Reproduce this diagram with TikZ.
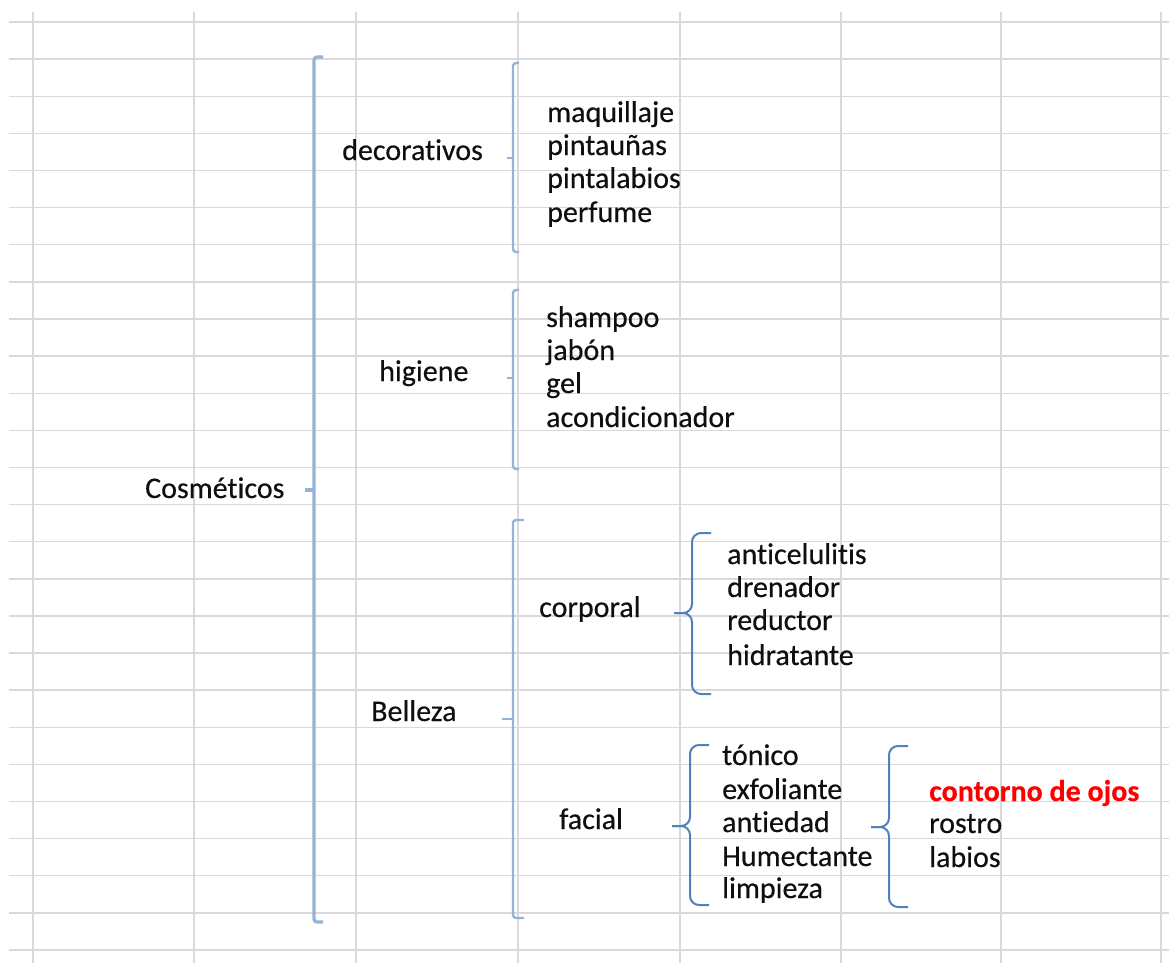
\documentclass[tikz,border=0pt]{standalone}
\usepackage{fontspec}
\setmainfont{Carlito}[RawFeature=-liga, FakeBold=0.35]
\definecolor{gridgray}{RGB}{217,217,217}
\definecolor{lineblue}{RGB}{149,179,215}
\definecolor{bracedark}{RGB}{79,129,189}
\definecolor{txt}{RGB}{15,15,15}
\definecolor{hotred}{RGB}{255,0,0}
\tikzset{
  gridline/.style={draw=gridgray, line width=1.4pt},
  item/.style={anchor=base west, inner sep=0pt, text=txt, font=\fontsize{30}{34}\selectfont},
  bigbar/.style={draw=lineblue, line width=3.2pt, rounded corners=3pt},
  bar/.style={draw=lineblue, line width=2.4pt, rounded corners=3pt},
  curly/.style={draw=bracedark, line width=2pt, rounded corners=9pt},
}
% square bracket: style, x, top, middle, bottom, tick
\newcommand{\corchete}[6][bar]{%
  \draw[#1] (#2+#6,#3) -- (#2,#3) -- (#2,#5) -- (#2+#6,#5);
  \draw[#1] (#2-#6,#4) -- (#2,#4);
}
% curly brace: x, top, middle, bottom
\newcommand{\llave}[4]{%
  \draw[curly] (#1+19,#2) -- (#1,#2) -- (#1,#3) -- (#1-18,#3);
  \draw[curly] (#1+19,#4) -- (#1,#4) -- (#1,#3) -- (#1-18,#3);
}
\begin{document}
\begin{tikzpicture}[x={(1pt,0)}, y={(0,-1pt)}]
    \useasboundingbox (0,0) rectangle (1169,963);
    \fill[white] (0,0) rectangle (1169,963);

    %Grid
    \foreach \k in {0,...,25}
      \draw[gridline] (9,22+37.12*\k) -- (1169,22+37.12*\k);
    \foreach \x in {33,194,356,518,680,841,1001,1161}
      \draw[gridline] (\x,12) -- (\x,963);

    %Root
    \node[item] (cosm) at (145,498) {Cosméticos};
    \corchete[bigbar]{314}{57}{490}{922}{9}

    %Decorativos
    \node[item] (decor) at (342,160) {decorativos};
    \corchete{513}{63}{158}{252}{6}
    \node[item] (maquillaje) at (547,122) {maquillaje};
    \node[item] (pintaunas) at (547,155) {pintauñas};
    \node[item] (pintalabios) at (547,188) {pintalabios};
    \node[item] (perfume) at (547,222) {perfume};

    %Higiene
    \node[item] (higiene) at (379,381) {higiene};
    \corchete{513}{290}{378}{469}{6}
    \node[item] (shampoo) at (546,327) {shampoo};
    \node[item] (jabon) at (546,360) {jabón};
    \node[item] (gel) at (546,393) {gel};
    \node[item] (acond) at (546,427) {acondicionador};

    %Belleza
    \node[item] (belleza) at (371,721) {Belleza};
    \corchete{513}{520}{719}{918}{11}

    \node[item] (corporal) at (539,617) {corporal};
    \llave{692}{533}{613}{694}
    \node[item] (anticel) at (727,564) {anticelulitis};
    \node[item] (drenador) at (727,597) {drenador};
    \node[item] (reductor) at (727,630) {reductor};
    \node[item] (hidratante) at (727,665) {hidratante};

    \node[item] (facial) at (559,829) {facial};
    \llave{690}{745}{826}{905}
    \node[item] (tonico) at (722,765) {tónico};
    \node[item] (exfol) at (722,799) {exfoliante};
    \node[item] (antiedad) at (722,832) {antiedad};
    \node[item] (humect) at (722,866) {Humectante};
    \node[item] (limpieza) at (722,898) {limpieza};

    \llave{889}{746}{827}{907}
    \node[item, text=hotred, font=\fontsize{30}{34}\selectfont\bfseries] (contorno) at (929,801) {contorno de ojos};
    \node[item] (rostro) at (929,833) {rostro};
    \node[item] (labios) at (929,867) {labios};
\end{tikzpicture}
\end{document}
